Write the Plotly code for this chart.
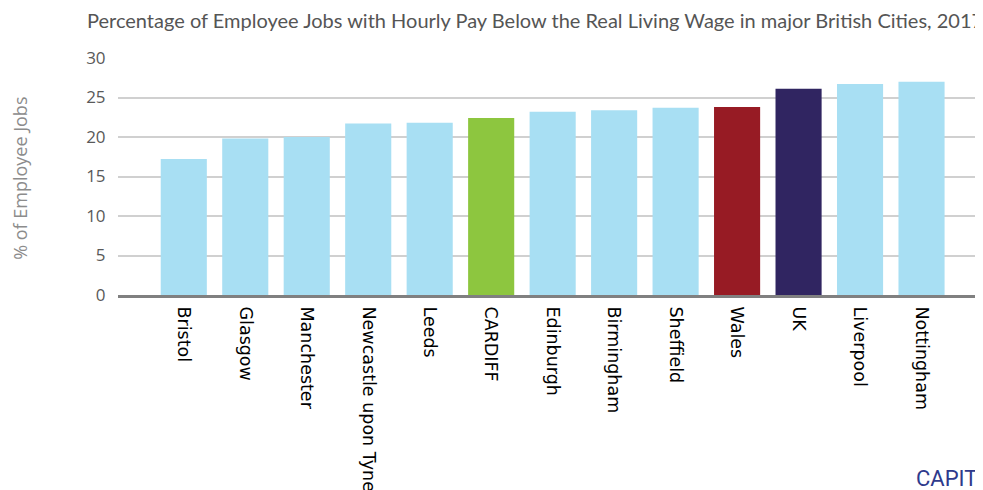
import plotly.graph_objects as go

categories = ["Bristol", "Glasgow", "Manchester", "Newcastle upon Tyne", "Leeds", "CARDIFF",
              "Edinburgh", "Birmingham", "Sheffield", "Wales", "UK", "Liverpool", "Nottingham"]
values = [17.2, 19.8, 20.0, 21.7, 21.8, 22.4, 23.2, 23.4, 23.7, 23.8, 26.1, 26.7, 27.0]
colors = ["#a8dff3"] * 5 + ["#8dc63f"] + ["#a8dff3"] * 3 + ["#971b24", "#302561"] + ["#a8dff3"] * 2
y_ticks = [0, 5, 10, 15, 20, 25, 30]

W, H = 983, 490
L, T, B, R = 110, 50, 203, 8
PW, PH = W - L - R, H - T - B

fig = go.Figure(go.Bar(x=categories, y=values, marker=dict(color=colors, line=dict(width=0)), width=0.75))

fig.update_layout(
    width=W, height=H,
    margin=dict(l=L, r=R, t=T, b=B, autoexpand=False),
    plot_bgcolor="white", paper_bgcolor="white",
    showlegend=False,
    title=dict(text="Percentage of Employee Jobs with Hourly Pay Below the Real Living Wage in major British Cities, 2017",
               xref="container", yref="container", x=79 / W, xanchor="left", y=1 - 13 / H, yanchor="middle",
               font=dict(family="Lato", size=20, color="#555555")),
    xaxis=dict(range=[-1.07, 13.0], tickangle=90, automargin=False, ticklabelstandoff=5,
               tickfont=dict(family="DejaVu Sans", size=17.5, color="black"),
               showline=True, linecolor="#808080", linewidth=3, ticks="", showgrid=False),
    yaxis=dict(range=[0, 30], tickvals=y_ticks, showgrid=True, gridcolor="#d0d0d0", gridwidth=2, automargin=False,
               zeroline=False, showline=False, ticks="outside", ticklen=8, tickcolor="white",
               tickfont=dict(family="Open Sans", size=17, color="#595959")),
    annotations=[
        dict(text="% of Employee Jobs", xref="paper", yref="paper", x=-(L - 12) / PW, y=0.49,
             textangle=-90, showarrow=False, xanchor="center", yanchor="middle",
             font=dict(family="Open Sans", size=18, color="#8c8c8c")),
        dict(text="CAPITA", xref="paper", yref="paper", x=(906 - L) / PW, y=-(470 - (T + PH)) / PH,
             xanchor="left", yanchor="middle", showarrow=False,
             font=dict(family="Liberation Sans Narrow, Roboto", size=22, color="#2e3a8c"))],
)

fig.write_html("out.html")
